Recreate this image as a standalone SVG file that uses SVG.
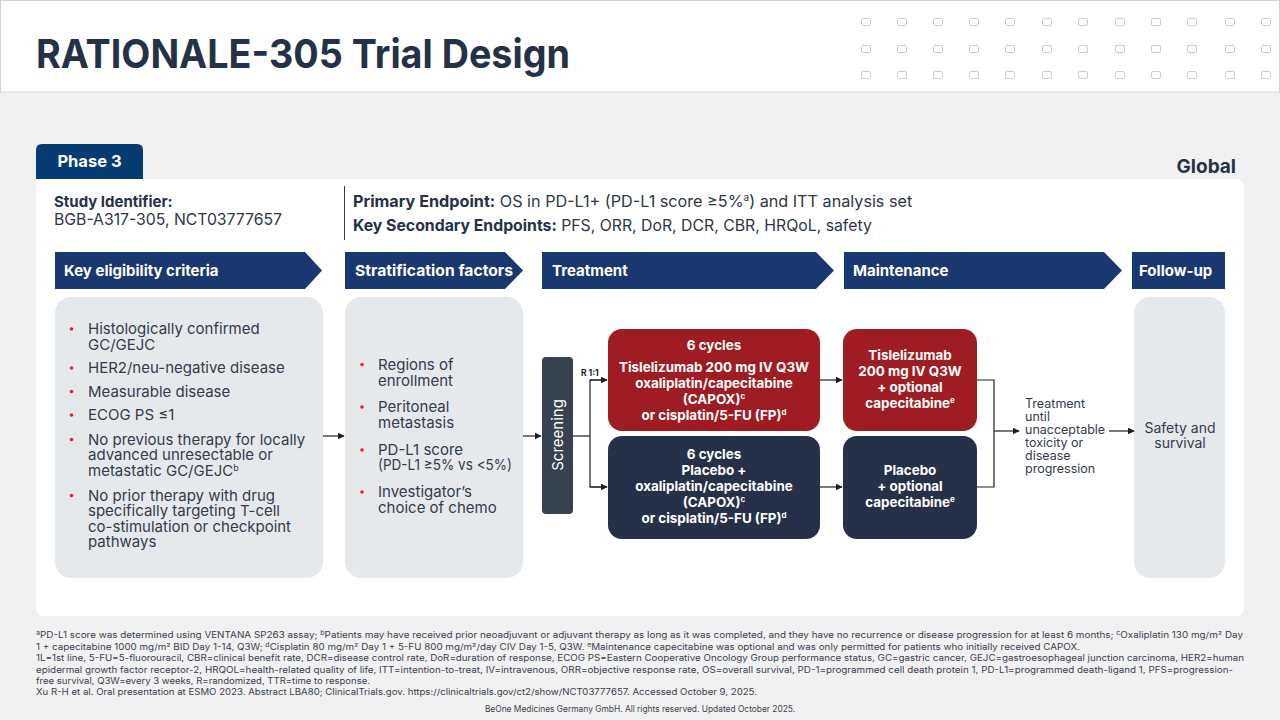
<svg xmlns="http://www.w3.org/2000/svg" width="1280" height="720" viewBox="0 0 1280 720">
<defs>
<marker id="ah" viewBox="0 0 10 10" refX="9" refY="5" markerWidth="7" markerHeight="7" markerUnits="userSpaceOnUse" orient="auto"><path d="M0,0 L10,5 L0,10 Z" fill="#1e1e1e"/></marker>
<style>
text{font-family:Inter,"Open Sans","DejaVu Sans",sans-serif;}
.hd{fill:#1a3870;}
.hdt{fill:#fff;font-size:15px;font-weight:700;}
.pan{fill:#e6e9ec;}
.body{fill:#343b4b;font-size:15px;}
.dot{fill:#e0242c;}
.bx{fill:#fff;font-size:13.4px;font-weight:700;text-anchor:middle;}
.red{fill:#a01c23;}
.navy{fill:#263048;}
.con{stroke:#1e1e1e;stroke-width:1.2;fill:none;}
.fn{fill:#3a4150;font-size:8.4px;}
.sq{fill:#fff;stroke:#c9ced6;stroke-width:1;}
</style>
</defs>
<rect width="1280" height="720" fill="#f1f1f1"/>
<g id="header">
<rect x="0.5" y="0.5" width="1279" height="91.5" fill="#fff" stroke="#d0d4d9"/>
<text x="36" y="68" font-size="40" font-weight="700" fill="#253147" textLength="534" lengthAdjust="spacingAndGlyphs">RATIONALE-305 Trial Design</text>
<g id="grid">
<rect class="sq" x="861.5" y="18.5" width="9" height="7" rx="1.5"/><rect class="sq" x="897.5" y="18.5" width="9" height="7" rx="1.5"/><rect class="sq" x="933.5" y="18.5" width="9" height="7" rx="1.5"/><rect class="sq" x="969.5" y="18.5" width="9" height="7" rx="1.5"/><rect class="sq" x="1005.5" y="18.5" width="9" height="7" rx="1.5"/><rect class="sq" x="1042.5" y="18.5" width="9" height="7" rx="1.5"/><rect class="sq" x="1078.5" y="18.5" width="9" height="7" rx="1.5"/><rect class="sq" x="1115.5" y="18.5" width="9" height="7" rx="1.5"/><rect class="sq" x="1151.5" y="18.5" width="9" height="7" rx="1.5"/><rect class="sq" x="1187.5" y="18.5" width="9" height="7" rx="1.5"/><rect class="sq" x="1225.5" y="18.5" width="9" height="7" rx="1.5"/><rect class="sq" x="1261.5" y="18.5" width="9" height="7" rx="1.5"/>
<rect class="sq" x="861.5" y="45.5" width="9" height="7" rx="1.5"/><rect class="sq" x="897.5" y="45.5" width="9" height="7" rx="1.5"/><rect class="sq" x="933.5" y="45.5" width="9" height="7" rx="1.5"/><rect class="sq" x="969.5" y="45.5" width="9" height="7" rx="1.5"/><rect class="sq" x="1005.5" y="45.5" width="9" height="7" rx="1.5"/><rect class="sq" x="1042.5" y="45.5" width="9" height="7" rx="1.5"/><rect class="sq" x="1078.5" y="45.5" width="9" height="7" rx="1.5"/><rect class="sq" x="1115.5" y="45.5" width="9" height="7" rx="1.5"/><rect class="sq" x="1151.5" y="45.5" width="9" height="7" rx="1.5"/><rect class="sq" x="1187.5" y="45.5" width="9" height="7" rx="1.5"/><rect class="sq" x="1225.5" y="45.5" width="9" height="7" rx="1.5"/><rect class="sq" x="1261.5" y="45.5" width="9" height="7" rx="1.5"/>
<rect class="sq" x="861.5" y="71.5" width="9" height="7" rx="1.5"/><rect class="sq" x="897.5" y="71.5" width="9" height="7" rx="1.5"/><rect class="sq" x="933.5" y="71.5" width="9" height="7" rx="1.5"/><rect class="sq" x="969.5" y="71.5" width="9" height="7" rx="1.5"/><rect class="sq" x="1005.5" y="71.5" width="9" height="7" rx="1.5"/><rect class="sq" x="1042.5" y="71.5" width="9" height="7" rx="1.5"/><rect class="sq" x="1078.5" y="71.5" width="9" height="7" rx="1.5"/><rect class="sq" x="1115.5" y="71.5" width="9" height="7" rx="1.5"/><rect class="sq" x="1151.5" y="71.5" width="9" height="7" rx="1.5"/><rect class="sq" x="1187.5" y="71.5" width="9" height="7" rx="1.5"/><rect class="sq" x="1225.5" y="71.5" width="9" height="7" rx="1.5"/><rect class="sq" x="1261.5" y="71.5" width="9" height="7" rx="1.5"/>
</g>
</g>
<g id="phase">
<path d="M36 180 V150 Q36 144 42 144 H137 Q143 144 143 150 V180 Z" fill="#063b73"/>
<text x="89.5" y="167" font-size="16.5" font-weight="700" fill="#fff" text-anchor="middle">Phase 3</text>
</g>
<text x="1236" y="173" font-size="19" font-weight="700" fill="#253147" text-anchor="end">Global</text>
<rect id="panel" x="36" y="179" width="1208" height="437" rx="8" fill="#fff"/>
<path d="M36 179 H60 V190 H36 Z" fill="#fff"/>
<g id="study">
<text x="54" y="207" font-size="15" font-weight="700" fill="#253147">Study Identifier:</text>
<text x="54" y="225" font-size="16" fill="#2e3647" textLength="228" lengthAdjust="spacingAndGlyphs">BGB-A317-305, NCT03777657</text>
<line x1="344.5" y1="186" x2="344.5" y2="240" stroke="#3a3a3a" stroke-width="1"/>
<text x="353" y="207" font-size="16.2" fill="#2e3647"><tspan font-weight="700" fill="#253147">Primary Endpoint:</tspan> OS in PD-L1+ (PD-L1 score ≥5%<tspan font-size="10" dy="-6">a</tspan><tspan dy="6">) and ITT analysis set</tspan></text>
<text x="353" y="231" font-size="15.8" fill="#2e3647"><tspan font-weight="700" fill="#253147">Key Secondary Endpoints:</tspan> PFS, ORR, DoR, DCR, CBR, HRQoL, safety</text>
</g>
<g id="bar-eligibility"><path class="hd" d="M55 252 H305 L322 270.5 L305 289 H55 Z"/><text class="hdt" x="64" y="276">Key eligibility criteria</text></g>
<g id="bar-strat"><path class="hd" d="M345 252 H505 L523 270.5 L505 289 H345 Z"/><text class="hdt" x="355" y="276" textLength="158" lengthAdjust="spacingAndGlyphs">Stratification factors</text></g>
<g id="bar-treatment"><path class="hd" d="M542 252 H816 L834 270.5 L816 289 H542 Z"/><text class="hdt" x="552" y="276">Treatment</text></g>
<g id="bar-maintenance"><path class="hd" d="M844 252 H1104 L1122 270.5 L1104 289 H844 Z"/><text class="hdt" x="853" y="276">Maintenance</text></g>
<g id="bar-followup"><rect class="hd" x="1132" y="252" width="93" height="37"/><text class="hdt" x="1139" y="276">Follow-up</text></g>
<g id="eligibility">
<rect class="pan" x="55" y="297" width="268" height="281" rx="16"/>
<circle class="dot" cx="71.5" cy="329" r="1.8"/><circle class="dot" cx="71.5" cy="368" r="1.8"/><circle class="dot" cx="71.5" cy="391.5" r="1.8"/><circle class="dot" cx="71.5" cy="415" r="1.8"/><circle class="dot" cx="71.5" cy="439.5" r="1.8"/><circle class="dot" cx="71.5" cy="495.5" r="1.8"/>
<text class="body" x="88" y="334">Histologically confirmed</text>
<text class="body" x="88" y="349.5">GC/GEJC</text>
<text class="body" x="88" y="373">HER2/neu-negative disease</text>
<text class="body" x="88" y="396.5">Measurable disease</text>
<text class="body" x="88" y="419.5">ECOG PS ≤1</text>
<text class="body" x="88" y="444.5">No previous therapy for locally</text>
<text class="body" x="88" y="460">advanced unresectable or</text>
<text class="body" x="88" y="476">metastatic GC/GEJC<tspan font-size="9" dy="-5">b</tspan></text>
<text class="body" x="88" y="500.5">No prior therapy with drug</text>
<text class="body" x="88" y="516">specifically targeting T-cell</text>
<text class="body" x="88" y="531.5">co-stimulation or checkpoint</text>
<text class="body" x="88" y="547">pathways</text>
</g>
<g id="stratification">
<rect class="pan" x="345" y="297" width="178" height="281" rx="16"/>
<circle class="dot" cx="362" cy="364.5" r="1.8"/><circle class="dot" cx="362" cy="407" r="1.8"/><circle class="dot" cx="362" cy="450" r="1.8"/><circle class="dot" cx="362" cy="492" r="1.8"/>
<text class="body" x="378" y="370">Regions of</text>
<text class="body" x="378" y="385.5">enrollment</text>
<text class="body" x="378" y="412">Peritoneal</text>
<text class="body" x="378" y="427.5">metastasis</text>
<text class="body" x="378" y="454.5">PD-L1 score</text>
<text class="body" x="378" y="470" textLength="134" lengthAdjust="spacingAndGlyphs">(PD-L1 ≥5% vs &lt;5%)</text>
<text class="body" x="378" y="497">Investigator’s</text>
<text class="body" x="378" y="512.5">choice of chemo</text>
</g>
<g id="screening">
<rect x="542" y="357" width="31" height="157" rx="4" fill="#36434f"/>
<text x="0" y="0" transform="translate(563,435) rotate(-90)" font-size="15" fill="#fff" text-anchor="middle">Screening</text>
</g>
<g id="treat-tis">
<rect class="red" x="608" y="329" width="212" height="102" rx="14"/>
<text class="bx" x="714" y="350">6 cycles</text>
<text class="bx" x="714" y="372">Tislelizumab 200 mg IV Q3W</text>
<text class="bx" x="714" y="387.5">oxaliplatin/capecitabine</text>
<text class="bx" x="714" y="403.5">(CAPOX)<tspan font-size="8" dy="-5">c</tspan></text>
<text class="bx" x="714" y="419.5">or cisplatin/5-FU (FP)<tspan font-size="8" dy="-5">d</tspan></text>
</g>
<g id="treat-pbo">
<rect class="navy" x="608" y="436" width="212" height="103" rx="14"/>
<text class="bx" x="714" y="458.5">6 cycles</text>
<text class="bx" x="714" y="474.5">Placebo +</text>
<text class="bx" x="714" y="490.5">oxaliplatin/capecitabine</text>
<text class="bx" x="714" y="506.5">(CAPOX)<tspan font-size="8" dy="-5">c</tspan></text>
<text class="bx" x="714" y="522.5">or cisplatin/5-FU (FP)<tspan font-size="8" dy="-5">d</tspan></text>
</g>
<g id="maint-tis">
<rect class="red" x="843" y="329" width="134" height="102" rx="14"/>
<text class="bx" x="910" y="359.5">Tislelizumab</text>
<text class="bx" x="910" y="375.5">200 mg IV Q3W</text>
<text class="bx" x="910" y="391.5">+ optional</text>
<text class="bx" x="910" y="407.5">capecitabine<tspan font-size="8" dy="-5">e</tspan></text>
</g>
<g id="maint-pbo">
<rect class="navy" x="843" y="436" width="134" height="103" rx="14"/>
<text class="bx" x="910" y="474.5">Placebo</text>
<text class="bx" x="910" y="490.5">+ optional</text>
<text class="bx" x="910" y="506.5">capecitabine<tspan font-size="8" dy="-5">e</tspan></text>
</g>
<g id="followup">
<rect class="pan" x="1134" y="297" width="91" height="281" rx="16"/>
<text x="1180" y="433" font-size="14" fill="#343b4b" text-anchor="middle">Safety and</text>
<text x="1180" y="448" font-size="14" fill="#343b4b" text-anchor="middle">survival</text>
</g>
<g id="until" font-size="12.5" fill="#343b4b">
<text x="1025" y="408">Treatment</text>
<text x="1025" y="421">until</text>
<text x="1025" y="434">unacceptable</text>
<text x="1025" y="447">toxicity or</text>
<text x="1025" y="460">disease</text>
<text x="1025" y="473">progression</text>
</g>
<g id="connectors">
<line class="con" x1="323" y1="436" x2="344" y2="436" marker-end="url(#ah)"/>
<line class="con" x1="523" y1="436" x2="541" y2="436" marker-end="url(#ah)"/>
<path class="con" d="M573 436 H590"/>
<path class="con" d="M607 380 H590 V487 H607"/>
<line class="con" x1="590" y1="380" x2="607" y2="380" marker-end="url(#ah)"/>
<line class="con" x1="590" y1="487" x2="607" y2="487" marker-end="url(#ah)"/>
<line class="con" x1="820" y1="380" x2="842" y2="380" marker-end="url(#ah)"/>
<line class="con" x1="820" y1="487" x2="842" y2="487" marker-end="url(#ah)"/>
<path class="con" d="M977 380 H994 V487 H977"/>
<line class="con" x1="994" y1="431" x2="1019" y2="431" marker-end="url(#ah)"/>
<line class="con" x1="1109" y1="431" x2="1134" y2="431" marker-end="url(#ah)"/>
<text x="581" y="376" font-size="8.5" font-weight="700" fill="#1e1e1e">R 1:1</text>
</g>
<g id="footnotes" class="fn">
<text class="fn" x="36" y="638" textLength="1207" lengthAdjust="spacingAndGlyphs"><tspan font-size="6" dy="-3">a</tspan><tspan dy="3">PD-L1 score was determined using VENTANA SP263 assay; </tspan><tspan font-size="6" dy="-3">b</tspan><tspan dy="3">Patients may have received prior neoadjuvant or adjuvant therapy as long as it was completed, and they have no recurrence or disease progression for at least 6 months; </tspan><tspan font-size="6" dy="-3">c</tspan><tspan dy="3">Oxaliplatin 130 mg/m² Day</tspan></text>
<text class="fn" x="36" y="649.5" textLength="1044" lengthAdjust="spacingAndGlyphs">1 + capecitabine 1000 mg/m² BID Day 1-14, Q3W; <tspan font-size="6" dy="-3">d</tspan><tspan dy="3">Cisplatin 80 mg/m² Day 1 + 5-FU 800 mg/m²/day CIV Day 1-5, Q3W. </tspan><tspan font-size="6" dy="-3">e</tspan><tspan dy="3">Maintenance capecitabine was optional and was only permitted for patients who initially received CAPOX.</tspan></text>
<text class="fn" x="36" y="661" textLength="1208" lengthAdjust="spacingAndGlyphs">1L=1st line, 5-FU=5-fluorouracil, CBR=clinical benefit rate, DCR=disease control rate, DoR=duration of response, ECOG PS=Eastern Cooperative Oncology Group performance status, GC=gastric cancer, GEJC=gastroesophageal junction carcinoma, HER2=human</text>
<text class="fn" x="36" y="672.5" textLength="1197" lengthAdjust="spacingAndGlyphs">epidermal growth factor receptor-2, HRQOL=health-related quality of life, ITT=intention-to-treat, IV=intravenous, ORR=objective response rate, OS=overall survival, PD-1=programmed cell death protein 1, PD-L1=programmed death-ligand 1, PFS=progression-</text>
<text class="fn" x="36" y="683.5" textLength="334" lengthAdjust="spacingAndGlyphs">free survival, Q3W=every 3 weeks, R=randomized, TTR=time to response.</text>
<text class="fn" x="36" y="694.5" textLength="721" lengthAdjust="spacingAndGlyphs">Xu R-H et al. Oral presentation at ESMO 2023. Abstract LBA80; ClinicalTrials.gov. https://clinicaltrials.gov/ct2/show/NCT03777657. Accessed October 9, 2025.</text>
<text class="fn" x="640" y="712" text-anchor="middle" font-size="8">BeOne Medicines Germany GmbH. All rights reserved. Updated October 2025.</text>
</g>
</svg>
